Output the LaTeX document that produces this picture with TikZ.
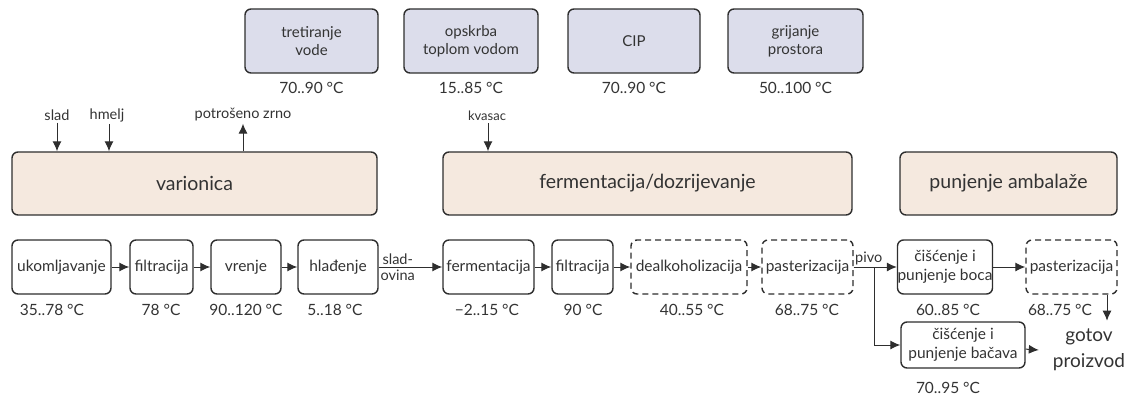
\documentclass[tikz,border=0pt]{standalone}
\usepackage{fontspec}
\setmainfont{Lato}
\usetikzlibrary{arrows.meta}
\definecolor{lc}{HTML}{2E2E2E}
\definecolor{tc}{HTML}{333333}
\definecolor{blu}{HTML}{DCDDEB}
\definecolor{beige}{HTML}{F5E9DF}
\tikzset{
  util/.style={draw=lc, line width=1.4pt, rounded corners=6pt, fill=blu, minimum height=64pt, align=center, inner sep=0pt, text=tc, font=\fontsize{15}{18}\selectfont},
  stage/.style={draw=lc, line width=1.4pt, rounded corners=6pt, fill=beige, minimum height=63pt, inner sep=0pt, text=tc, font=\fontsize{19.5}{22}\selectfont},
  proc/.style={draw=lc, line width=1.4pt, rounded corners=6pt, fill=white, minimum height=54pt, align=center, inner sep=0pt, text=tc, font=\fontsize{15.5}{18.5}\selectfont},
  dproc/.style={proc, dash pattern=on 6pt off 4pt},
  temp/.style={text=tc, inner sep=0pt, font=\fontsize{15.5}{18}\selectfont},
  lab/.style={text=tc, inner sep=2pt, font=\fontsize{14.5}{17}\selectfont},
  arr/.style={-{Latex[length=10pt,width=9pt]}, line width=1pt, draw=lc},
  ln/.style={line width=1pt, draw=lc}
}
\begin{document}
\begin{tikzpicture}[x=1pt,y=-1pt]
\useasboundingbox (0,0) rectangle (1124,398);
% utilities
\node[util, minimum width=133pt] (u1) at (311.5,41) {tretiranje\\vode};
\node[util, minimum width=134pt] (u2) at (471,41) {opskrba\\toplom vodom};
\node[util, minimum width=132pt] (u3) at (634,41) {CIP};
\node[util, minimum width=135pt] (u4) at (795.5,41) {grijanje\\prostora};
\node[temp] (tu1) at (311.5,88) {70..90 °C};
\node[temp] (tu2) at (471,88) {15..85 °C};
\node[temp] (tu3) at (634,88) {70..90 °C};
\node[temp] (tu4) at (795.5,88) {50..100 °C};
% stages
\node[stage, minimum width=365pt] (var) at (194.5,183.5) {varionica};
\node[stage, minimum width=409pt] (fer) at (647.5,183.5) {fermentacija/dozrijevanje};
\node[stage, minimum width=217pt] (pun) at (1008.5,183.5) {punjenje ambalaže};
% inputs
\node[lab] (slad) at (57,115) {slad};
\node[lab] (hmelj) at (107,115) {hmelj};
\node[lab] (zrno) at (243,115) {potrošeno zrno};
\node[lab, font=\fontsize{13}{16}\selectfont] (kvasac) at (487,116) {kvasac};
\draw[arr] (slad.south) -- (slad.south |- var.north);
\draw[arr] (hmelj.south -| 109,0) -- (var.north -| 109,0);
\draw[arr] (zrno.south |- var.north) -- (zrno.south);
\draw[arr] (kvasac.south -| 488,0) -- (fer.north -| 488,0);
% process row
\node[proc, minimum width=99pt] (p1) at (61.5,267) {ukomljavanje};
\node[proc, minimum width=63pt] (p2) at (161.5,267) {filtracija};
\node[proc, minimum width=70pt] (p3) at (246,267) {vrenje};
\node[proc, minimum width=80pt] (p4) at (338,267) {hlađenje};
\node[proc, minimum width=91pt] (p5) at (488.5,267) {fermentacija};
\node[proc, minimum width=61pt] (p6) at (582.5,267) {filtracija};
\node[dproc, minimum width=116pt] (p7) at (689,267) {dealkoholizacija};
\node[dproc, minimum width=91pt] (p8) at (807.5,267) {pasterizacija};
\node[proc, minimum width=88pt] (p9) at (945,267) {čišćenje i\\punjenje boca};
\node[dproc, minimum width=91pt] (p10) at (1071.5,267) {pasterizacija};
\node[proc, minimum width=124pt, minimum height=46pt] (p11) at (963,345) {čišćenje i\\punjenje bačava};
\node[text=tc, align=center, inner sep=2pt, font=\fontsize{19}{26}\selectfont] (gotov) at (1089,350) {gotov\\proizvod};
% temperatures
\node[temp] at (52,310) {35..78 °C};
\node[temp] at (161,310) {78 °C};
\node[temp] at (246,310) {90..120 °C};
\node[temp] at (335,310) {5..18 °C};
\node[temp] at (487,310) {−2..15 °C};
\node[temp] at (583,310) {90 °C};
\node[temp] at (692,310) {40..55 °C};
\node[temp] at (807,310) {68..75 °C};
\node[temp] at (948,310) {60..85 °C};
\node[temp] at (1060,310) {68..75 °C};
\node[temp] at (948,388) {70..95 °C};
% arrows
\draw[arr] (p1) -- (p2);
\draw[arr] (p2) -- (p3);
\draw[arr] (p3) -- (p4);
\draw[arr] (p4) -- node[lab, above, pos=0.3] {slad-} node[lab, below, pos=0.3] {ovina} (p5);
\draw[arr] (p5) -- (p6);
\draw[arr] (p6) -- (p7);
\draw[arr] (p7) -- (p8);
\draw[arr] (p8) -- node[lab, above, pos=0.35] {pivo} (p9);
\coordinate (br) at (874,267);
\draw[arr] (br) |- (p11.west);
\draw[arr] (p9) -- (p10);
\draw[arr] (p11) -- ([xshift=-12pt]gotov.west);
\draw[arr] (p10.south -| 1107,0) -- ++(0,26);
\end{tikzpicture}
\end{document}
